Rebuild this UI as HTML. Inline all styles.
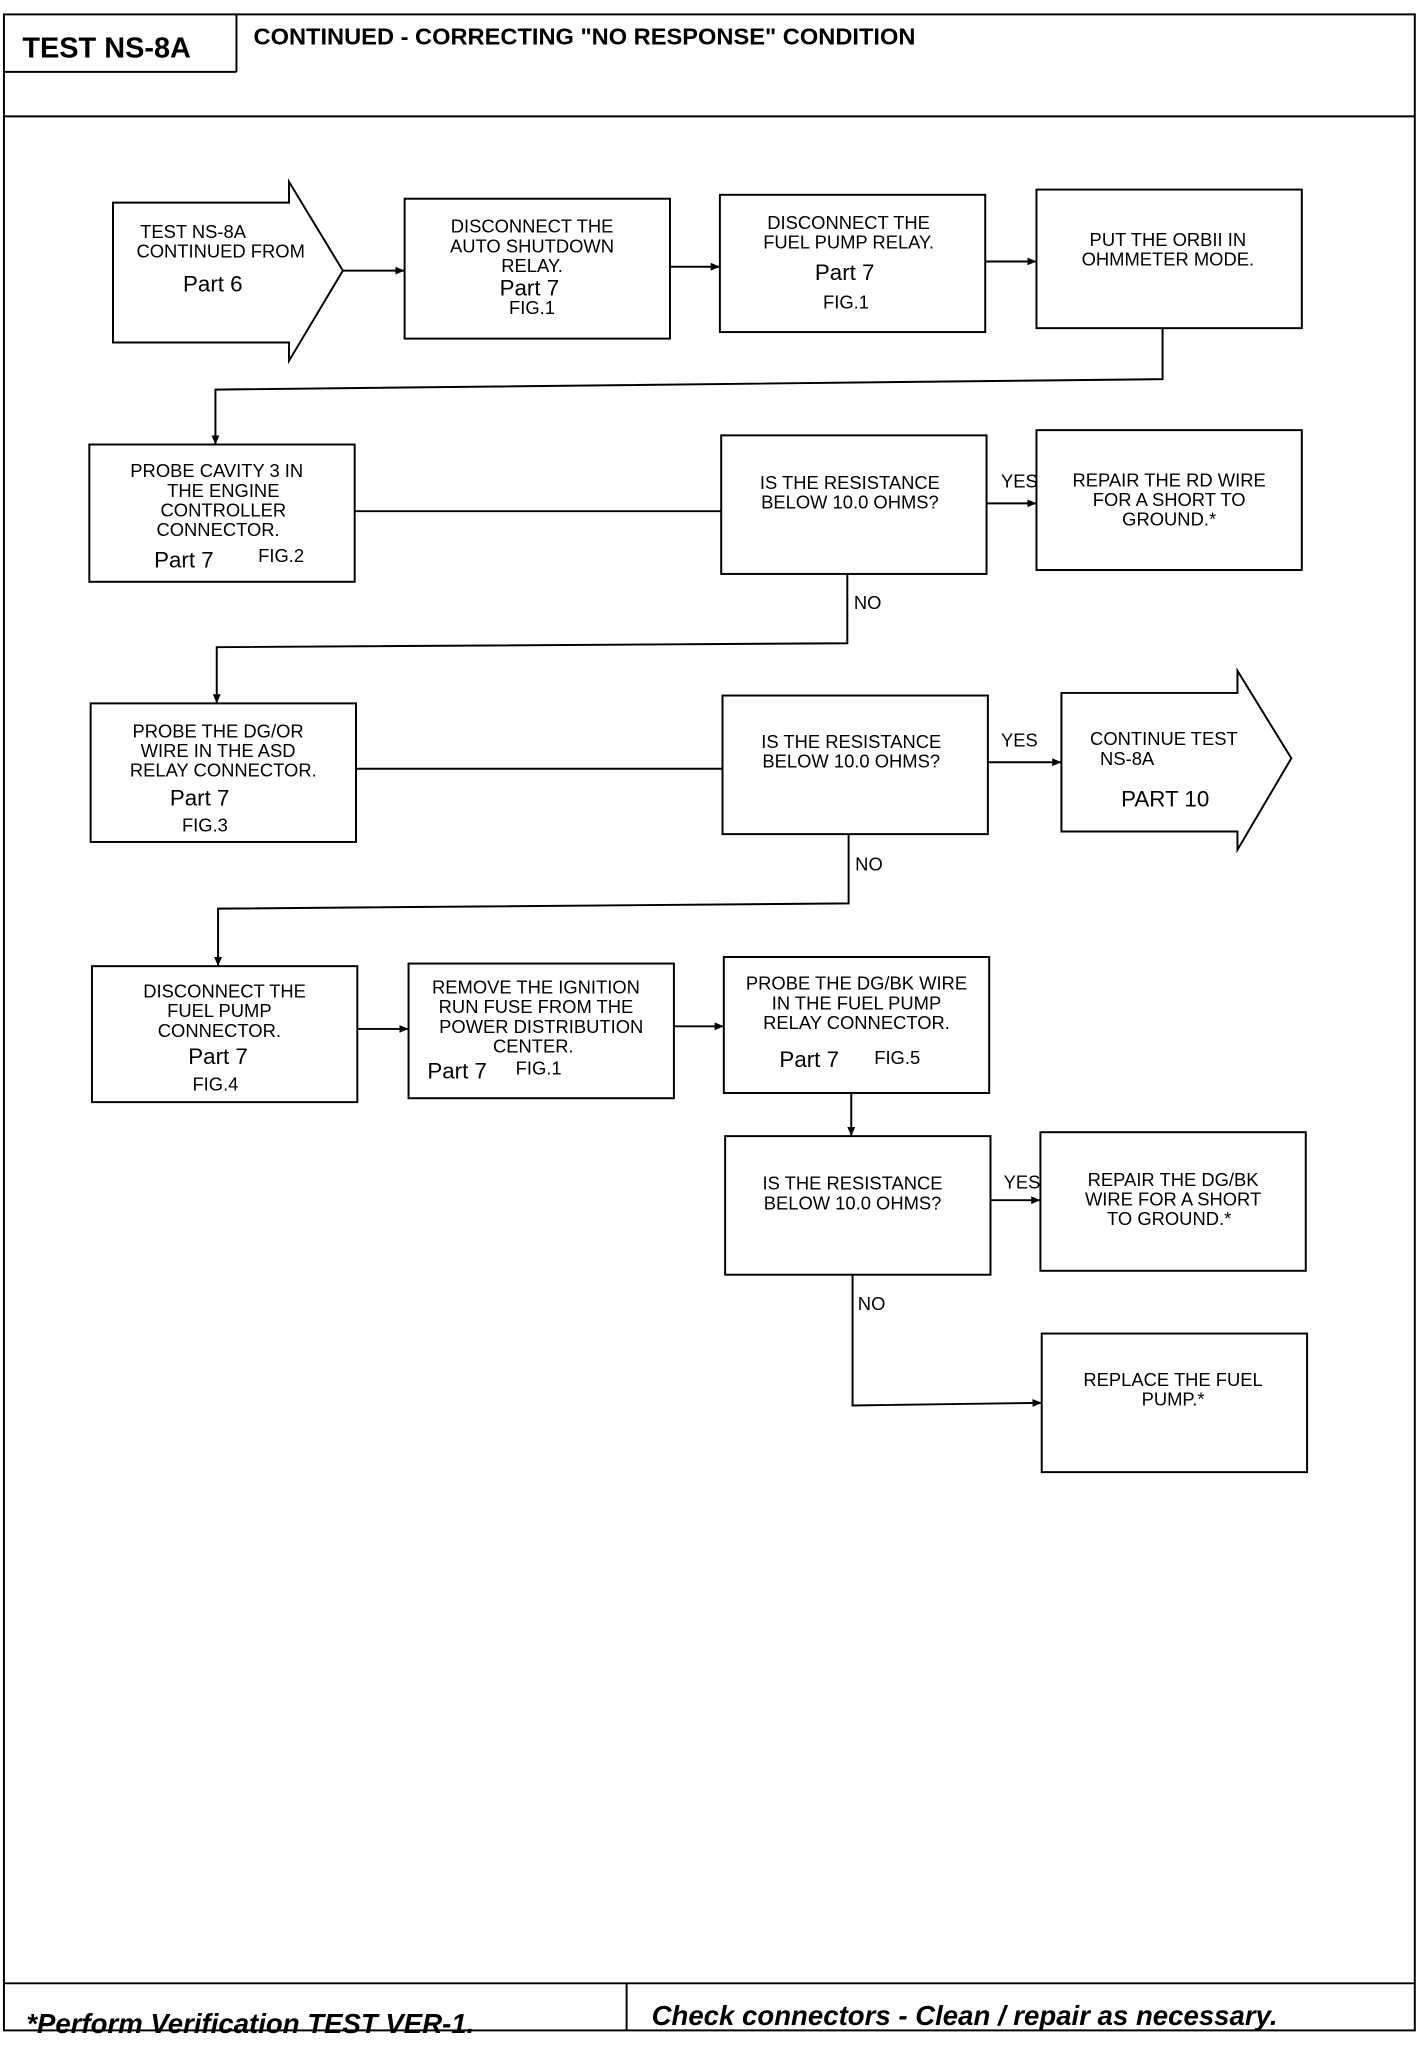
<!DOCTYPE html>
<html><head><meta charset="utf-8"><style>
html,body{margin:0;padding:0;background:#fff}
svg{display:block}
text{font-family:"Liberation Sans",sans-serif;fill:#000}
.m{font-family:"Liberation Mono",monospace;font-size:14px}
.p{font-size:17px}
</style></head><body>
<svg width="1424" height="2050" viewBox="0 0 1084 1568" preserveAspectRatio="none" xmlns="http://www.w3.org/2000/svg">
<defs><marker id="a" markerWidth="8" markerHeight="8" refX="7" refY="4" orient="auto" markerUnits="userSpaceOnUse"><path d="M0,1 L7,4 L0,7 Z" fill="#000"/></marker></defs>
<g fill="none" stroke="#000" stroke-width="1.5">
<rect x="3" y="11" width="1074" height="1542"/>
<line x1="3" y1="55" x2="180" y2="55"/><line x1="180" y1="11" x2="180" y2="55"/>
<line x1="3" y1="89" x2="1077" y2="89"/>
<line x1="3" y1="1517" x2="1077" y2="1517"/>
<line x1="477" y1="1517" x2="477" y2="1553"/>
<!-- row 1 -->
<path d="M86,155 H220 V139 L261,207 L220,276 V262 H86 Z"/>
<rect x="308" y="152" width="202" height="107"/>
<rect x="548" y="149" width="202" height="105"/>
<rect x="789" y="145" width="202" height="106"/>
<line x1="261" y1="207" x2="308" y2="207" marker-end="url(#a)"/>
<line x1="510" y1="204" x2="548" y2="204" marker-end="url(#a)"/>
<line x1="750" y1="200" x2="789" y2="200" marker-end="url(#a)"/>
<polyline points="885,251 885,290 164,298 164,340" marker-end="url(#a)"/>
<!-- row 2 -->
<rect x="68" y="340" width="202" height="105"/>
<rect x="549" y="333" width="202" height="106"/>
<rect x="789" y="329" width="202" height="107"/>
<line x1="270" y1="391" x2="549" y2="391"/>
<line x1="751" y1="385" x2="789" y2="385" marker-end="url(#a)"/>
<polyline points="645,439 645,492 165,495 165,538" marker-end="url(#a)"/>
<!-- row 3 -->
<rect x="69" y="538" width="202" height="106"/>
<rect x="550" y="532" width="202" height="106"/>
<path d="M808,530 H942 V513 L983,580 L942,650 V636 H808 Z"/>
<line x1="271" y1="588" x2="550" y2="588"/>
<line x1="752" y1="583" x2="808" y2="583" marker-end="url(#a)"/>
<polyline points="646,638 646,691 166,695 166,739" marker-end="url(#a)"/>
<!-- row 4 -->
<rect x="70" y="739" width="202" height="104"/>
<rect x="311" y="737" width="202" height="103"/>
<rect x="551" y="732" width="202" height="104"/>
<line x1="272" y1="787" x2="311" y2="787" marker-end="url(#a)"/>
<line x1="513" y1="785" x2="551" y2="785" marker-end="url(#a)"/>
<line x1="648" y1="836" x2="648" y2="869" marker-end="url(#a)"/>
<rect x="552" y="869" width="202" height="106"/>
<rect x="792" y="866" width="202" height="106"/>
<line x1="754" y1="918" x2="792" y2="918" marker-end="url(#a)"/>
<polyline points="649,975 649,1075 793,1073" marker-end="url(#a)"/>
<rect x="793" y="1020" width="202" height="106"/>
</g>
<text x="17" y="44" style="font-size:22px;font-weight:bold">TEST NS-8A</text>
<text x="193" y="34" style="font-size:18px;font-weight:bold">CONTINUED - CORRECTING "NO RESPONSE" CONDITION</text>
<g class="m" text-anchor="middle">
<text x="147" y="182">TEST NS-8A</text><text x="168" y="197">CONTINUED FROM</text>
<text x="405" y="178">DISCONNECT THE</text><text x="405" y="193">AUTO SHUTDOWN</text><text x="405" y="208">RELAY.</text><text x="405" y="240">FIG.1</text>
<text x="646" y="175">DISCONNECT THE</text><text x="646" y="190">FUEL PUMP RELAY.</text><text x="644" y="236">FIG.1</text>
<text x="889" y="188">PUT THE ORBII IN</text><text x="889" y="203">OHMMETER MODE.</text>
<text x="165" y="365">PROBE CAVITY 3 IN</text><text x="170" y="380">THE ENGINE</text><text x="170" y="395">CONTROLLER</text><text x="166" y="410">CONNECTOR.</text><text x="214" y="430">FIG.2</text>
<text x="647" y="374">IS THE RESISTANCE</text><text x="647" y="389">BELOW 10.0 OHMS?</text>
<text x="890" y="372">REPAIR THE RD WIRE</text><text x="890" y="387">FOR A SHORT TO</text><text x="890" y="402">GROUND.*</text>
<text x="166" y="564">PROBE THE DG/OR</text><text x="166" y="579">WIRE IN THE ASD</text><text x="170" y="594">RELAY CONNECTOR.</text><text x="156" y="636">FIG.3</text>
<text x="648" y="572">IS THE RESISTANCE</text><text x="648" y="587">BELOW 10.0 OHMS?</text>
<text x="886" y="570">CONTINUE TEST</text><text x="858" y="585">NS-8A</text>
<text x="171" y="763">DISCONNECT THE</text><text x="167" y="778">FUEL PUMP</text><text x="167" y="793">CONNECTOR.</text><text x="164" y="834">FIG.4</text>
<text x="408" y="760">REMOVE THE IGNITION</text><text x="408" y="775">RUN FUSE FROM THE</text><text x="412" y="790">POWER DISTRIBUTION</text><text x="406" y="805">CENTER.</text><text x="410" y="822">FIG.1</text>
<text x="652" y="757">PROBE THE DG/BK WIRE</text><text x="652" y="772">IN THE FUEL PUMP</text><text x="652" y="787">RELAY CONNECTOR.</text><text x="683" y="814">FIG.5</text>
<text x="649" y="910">IS THE RESISTANCE</text><text x="649" y="925">BELOW 10.0 OHMS?</text>
<text x="893" y="907">REPAIR THE DG/BK</text><text x="893" y="922">WIRE FOR A SHORT</text><text x="890" y="937">TO GROUND.*</text>
<text x="893" y="1060">REPLACE THE FUEL</text><text x="893" y="1075">PUMP.*</text>
</g>
<g class="m">
<text x="762" y="373">YES</text><text x="650" y="466">NO</text>
<text x="762" y="571">YES</text><text x="651" y="666">NO</text>
<text x="764" y="909">YES</text><text x="653" y="1002">NO</text>
</g>
<g class="p" text-anchor="middle">
<text x="162" y="223">Part 6</text>
<text x="403" y="226">Part 7</text>
<text x="643" y="214">Part 7</text>
<text x="140" y="434">Part 7</text>
<text x="152" y="616">Part 7</text>
<text x="887" y="617">PART 10</text>
<text x="166" y="814">Part 7</text>
<text x="348" y="825">Part 7</text>
<text x="616" y="816">Part 7</text>
</g>
<text x="20" y="1555" style="font-size:21px;font-weight:bold;font-style:italic">*Perform Verification TEST VER-1.</text>
<text x="496" y="1549" style="font-size:21px;font-weight:bold;font-style:italic">Check connectors - Clean / repair as necessary.</text>
</svg>
</body></html>
